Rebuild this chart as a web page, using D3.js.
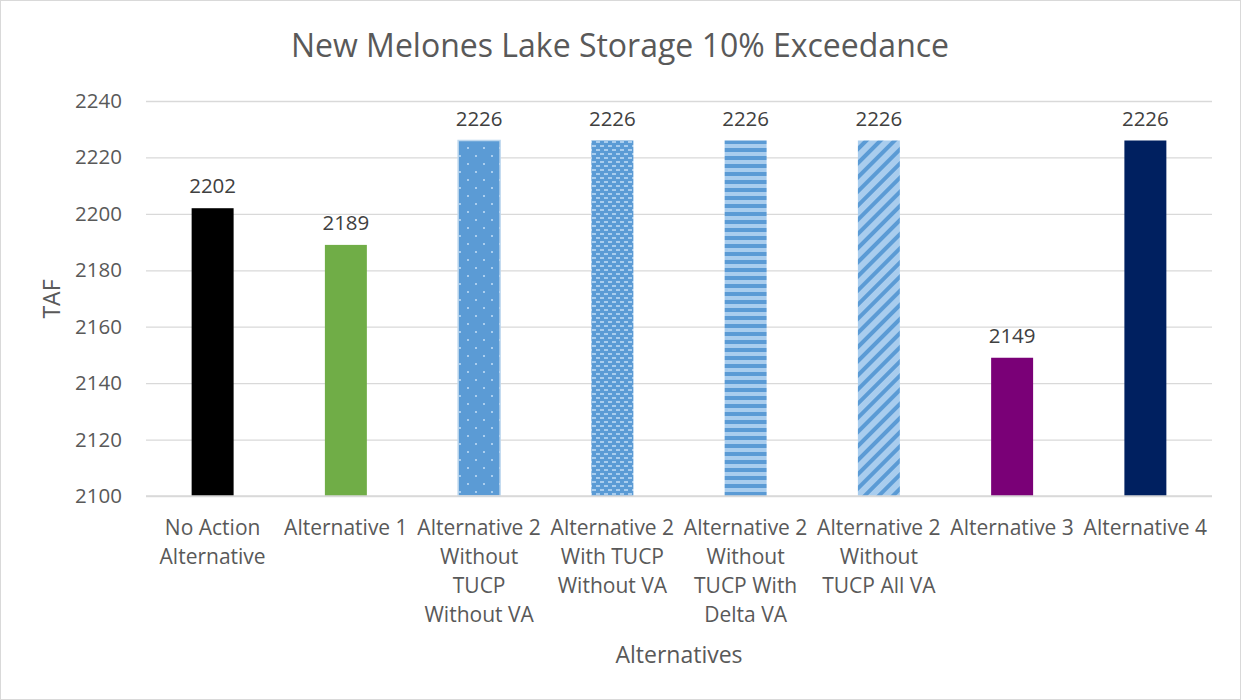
<!DOCTYPE html>
<html>
<head>
<meta charset="utf-8">
<script src="https://cdn.jsdelivr.net/npm/d3@7"></script>
<style>
  body { margin: 0; background: #fff; }
  svg { font-family: "Open Sans", sans-serif; }
</style>
</head>
<body>
<div id="chart"></div>
<script>
const categories = [
  'No Action\nAlternative',
  'Alternative 1',
  'Alternative 2\nWithout\nTUCP\nWithout VA',
  'Alternative 2\nWith TUCP\nWithout VA',
  'Alternative 2\nWithout\nTUCP With\nDelta VA',
  'Alternative 2\nWithout\nTUCP All VA',
  'Alternative 3',
  'Alternative 4'
];
const values = [2202, 2189, 2226, 2226, 2226, 2226, 2149, 2226];
const fills = ['#000000', '#70ad47', 'url(#dots)', 'url(#dashes)', 'url(#hstripes)', 'url(#diag)', '#7a0077', '#002060'];
const yTicks = [2100, 2120, 2140, 2160, 2180, 2200, 2220, 2240];

const width = 1241, height = 700;
const margin = { top: 101, right: 29, bottom: 204, left: 146 };

const svg = d3.select('#chart').append('svg')
  .attr('width', width)
  .attr('height', height);

svg.append('rect')
  .attr('x', 0.5).attr('y', 0.5)
  .attr('width', width - 1).attr('height', height - 1)
  .attr('fill', '#fff').attr('stroke', '#d9d9d9');

// patterns for the Alternative 2 bars
const defs = svg.append('defs');
const dark = '#5b9bd5', light = '#a9cdee';

const dots = defs.append('pattern').attr('id', 'dots').attr('patternUnits', 'userSpaceOnUse')
  .attr('width', 16).attr('height', 16);
dots.append('rect').attr('width', 16).attr('height', 16).attr('fill', dark);
dots.append('rect').attr('x', 3).attr('y', 3).attr('width', 2).attr('height', 2).attr('fill', light);
dots.append('rect').attr('x', 11).attr('y', 11).attr('width', 2).attr('height', 2).attr('fill', light);

const dashes = defs.append('pattern').attr('id', 'dashes').attr('patternUnits', 'userSpaceOnUse')
  .attr('width', 8).attr('height', 8);
dashes.append('rect').attr('width', 8).attr('height', 8).attr('fill', dark);
dashes.append('rect').attr('x', 0).attr('y', 1).attr('width', 4).attr('height', 2).attr('fill', light);
dashes.append('rect').attr('x', 4).attr('y', 5).attr('width', 4).attr('height', 2).attr('fill', light);

const hst = defs.append('pattern').attr('id', 'hstripes').attr('patternUnits', 'userSpaceOnUse')
  .attr('width', 8).attr('height', 8);
hst.append('rect').attr('width', 8).attr('height', 8).attr('fill', light);
hst.append('rect').attr('y', 4).attr('width', 8).attr('height', 4).attr('fill', dark);

const diag = defs.append('pattern').attr('id', 'diag').attr('patternUnits', 'userSpaceOnUse')
  .attr('width', 10).attr('height', 10).attr('patternTransform', 'rotate(45)');
diag.append('rect').attr('width', 10).attr('height', 10).attr('fill', light);
diag.append('rect').attr('width', 4).attr('height', 10).attr('fill', dark);

const x = d3.scaleBand()
  .domain(categories)
  .range([margin.left, width - margin.right])
  .paddingInner(0.685)
  .paddingOuter(0.3425);

const y = d3.scaleLinear()
  .domain([2100, 2240])
  .range([height - margin.bottom, margin.top]);

// gridlines + y labels
svg.append('g')
  .attr('transform', `translate(${margin.left},0)`)
  .call(d3.axisLeft(y).tickValues(yTicks).tickFormat(d3.format('d'))
    .tickSize(-(width - margin.left - margin.right)).tickPadding(24))
  .call(g => g.select('.domain').remove())
  .call(g => g.selectAll('.tick line').attr('stroke', '#d9d9d9').attr('stroke-width', 1.3))
  .call(g => g.selectAll('.tick text').attr('fill', '#595959').style('font-size', '20.5px')
    .style('font-family', '"Open Sans", sans-serif'));

svg.append('g').selectAll('rect')
  .data(values)
  .join('rect')
  .attr('x', (d, i) => x(categories[i]))
  .attr('y', d => y(d))
  .attr('width', x.bandwidth())
  .attr('height', d => y(2100) - y(d))
  .attr('fill', (d, i) => fills[i])
  .attr('stroke', (d, i) => i === 2 ? '#bdd7ee' : 'none')
  .attr('stroke-width', 1.5);

// baseline
svg.append('line')
  .attr('x1', margin.left).attr('x2', width - margin.right)
  .attr('y1', y(2100)).attr('y2', y(2100))
  .attr('stroke', '#d9d9d9').attr('stroke-width', 1.3);

// value labels
svg.append('g').selectAll('text')
  .data(values)
  .join('text')
  .attr('x', (d, i) => x(categories[i]) + x.bandwidth() / 2)
  .attr('y', d => y(d) - 15)
  .attr('text-anchor', 'middle')
  .attr('fill', '#404040')
  .style('font-size', '20.5px')
  .text(d => d);

// category labels
const cat = svg.append('g').selectAll('text')
  .data(categories)
  .join('text')
  .attr('text-anchor', 'middle')
  .attr('fill', '#595959')
  .style('font-size', '21px')
  .attr('transform', d => `translate(${x(d) + x.bandwidth() / 2},${y(2100) + 39})`);
cat.selectAll('tspan')
  .data(d => d.split('\n'))
  .join('tspan')
  .attr('x', 0)
  .attr('y', (d, i) => i * 29)
  .text(d => d);

svg.append('text')
  .attr('x', 620).attr('y', 57)
  .attr('text-anchor', 'middle')
  .attr('fill', '#595959')
  .style('font-size', '32px')
  .text('New Melones Lake Storage 10% Exceedance');

svg.append('text')
  .attr('transform', 'translate(60,299) rotate(-90)')
  .attr('text-anchor', 'middle')
  .attr('fill', '#595959')
  .style('font-size', '23px')
  .text('TAF');

svg.append('text')
  .attr('x', 679).attr('y', 663)
  .attr('text-anchor', 'middle')
  .attr('fill', '#595959')
  .style('font-size', '23px')
  .text('Alternatives');
</script>
</body>
</html>
